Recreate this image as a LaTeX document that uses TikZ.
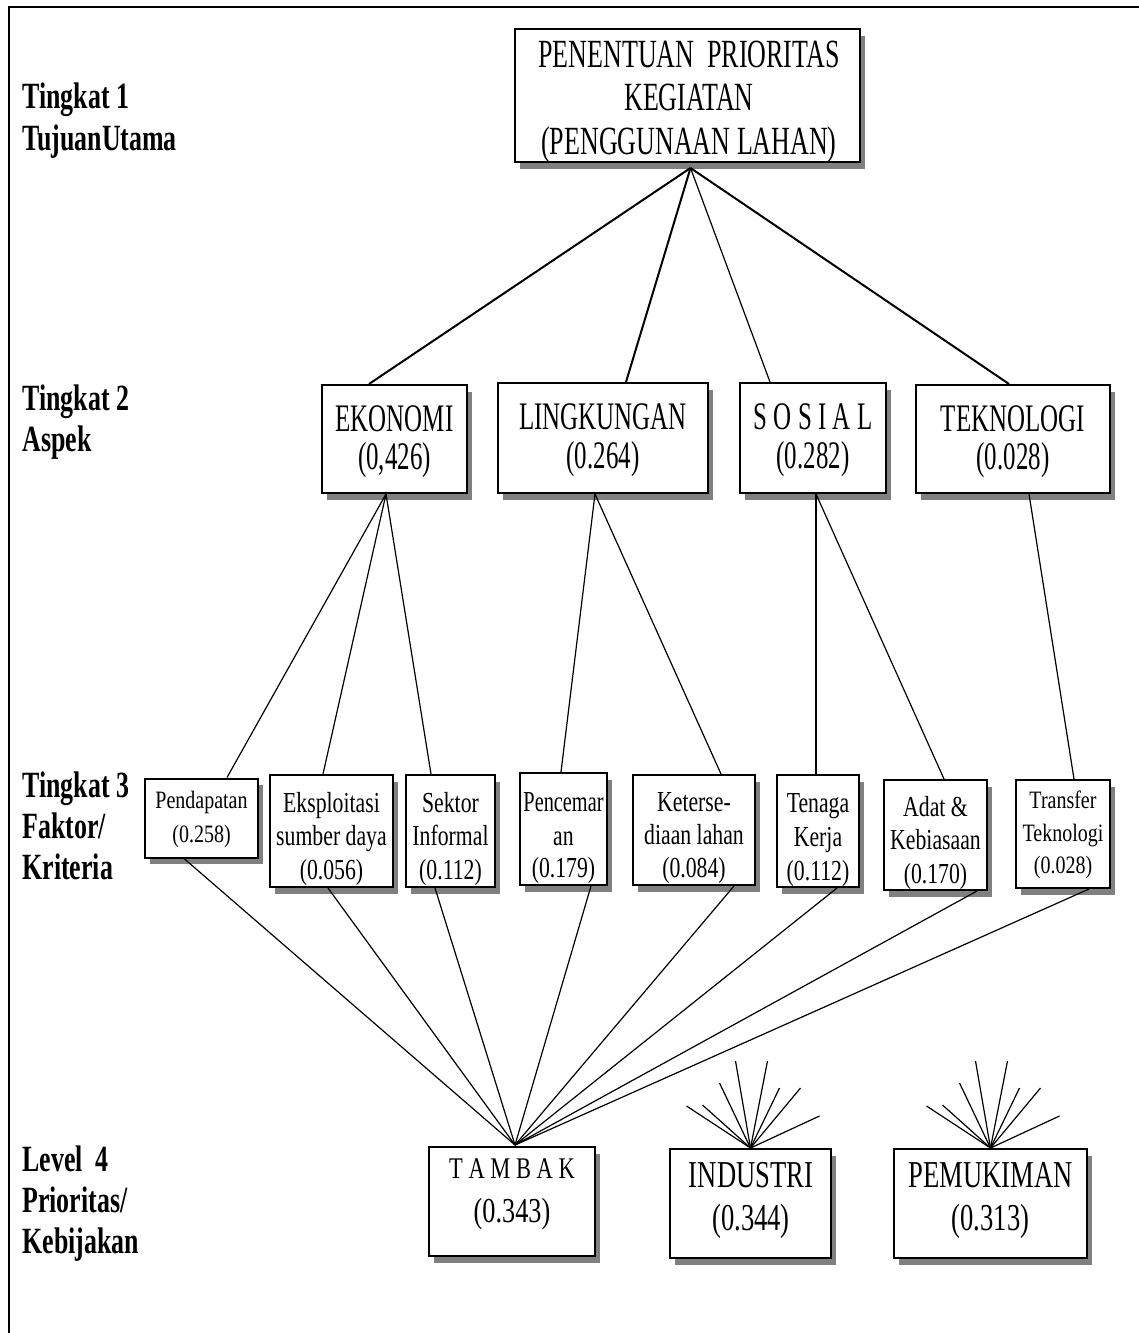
\documentclass[tikz,border=0pt]{standalone}
\usepackage{fontspec}
\setmainfont{Liberation Serif}
\newfontfamily\topfont{Liberation Serif}[FakeStretch=0.65]
\newfontfamily\aspfont{Liberation Serif}[FakeStretch=0.64]
\newfontfamily\levfont{Liberation Serif}[FakeStretch=0.7]
\newfontfamily\midfont{Liberation Serif}[FakeStretch=0.75]
\newfontfamily\penfont{Liberation Serif}[FakeStretch=0.7]
\newfontfamily\smfont{Liberation Serif}[FakeStretch=0.8]
\newfontfamily\labfont{Liberation Serif}[FakeStretch=0.7]
\usetikzlibrary{shadows,calc}
\begin{document}
\begin{tikzpicture}[x=0.5pt,y=-0.5pt,
  box/.style={draw, line width=1pt, fill=white, inner sep=0pt,
     drop shadow={shadow xshift=2.6pt, shadow yshift=-3.3pt, fill=black!50, opacity=1}},
  tl/.style={anchor=base, inner sep=0pt},
  fTop/.style={font=\topfont\fontsize{20}{24}\selectfont},
  fAsp/.style={font=\aspfont\fontsize{19.5}{24}\selectfont},
  fLev/.style={font=\levfont\fontsize{19}{24}\selectfont},
  fTam/.style={font=\midfont\fontsize{15}{18}\selectfont},
  fNum/.style={font=\midfont\fontsize{17.5}{20}\selectfont},
  fMid/.style={font=\midfont\fontsize{14.5}{18}\selectfont},
  fPen/.style={font=\penfont\fontsize{14.5}{18}\selectfont},
  fSm/.style={font=\smfont\fontsize{12.5}{15}\selectfont},
  lab/.style={anchor=base west, inner sep=0pt, font=\labfont\bfseries\fontsize{18.5}{22}\selectfont},
  thickline/.style={line width=1pt},
  thinline/.style={line width=0.6pt},
  frameline/.style={line width=0.75pt}
]
\useasboundingbox (0,0) rectangle (1139,1333);
\draw[frameline] (9,1333) -- (9,7) -- (1139,7);

% left labels
\node[lab] (l1a) at (22,108) {Tingkat 1};
\node[lab] (l1b) at (22,150) {TujuanUtama};
\node[lab] (l2a) at (22,410) {Tingkat 2};
\node[lab] (l2b) at (22,451) {Aspek};
\node[lab] (l3a) at (22,797) {Tingkat 3};
\node[lab] (l3b) at (22,838) {Faktor/};
\node[lab] (l3c) at (22,879) {Kriteria};
\node[lab] (l4a) at (22,1171) {Level~~4};
\node[lab] (l4b) at (22,1212) {Prioritas/};
\node[lab] (l4c) at (22,1253) {Kebijakan};

% level 1
\node[box, minimum width=172.5pt, minimum height=66.5pt] (top) at (687.5,95.5) {};
\node[tl, fTop] (top1) at (689,67) {PENENTUAN~~PRIORITAS};
\node[tl, fTop] (top2) at (689,110.5) {KEGIATAN};
\node[tl, fTop] (top3) at (689,154) {(PENGGUNAAN LAHAN)};

% level 2
\node[box, minimum width=72.5pt, minimum height=54pt] (eko) at (394.5,439) {};
\node[box, minimum width=105pt, minimum height=55pt] (ling) at (603,438) {};
\node[box, minimum width=73pt, minimum height=55pt] (sos) at (813,438) {};
\node[box, minimum width=97pt, minimum height=54pt] (tek) at (1013,439) {};
\node[tl, fAsp] (eko1) at (394.5,431) {EKONOMI};
\node[tl, fAsp] (eko2) at (394.5,469) {(0,426)};
\node[tl, fAsp] (ling1) at (603,429) {LINGKUNGAN};
\node[tl, fAsp] (ling2) at (603,468) {(0.264)};
\node[tl, fAsp] (sos1) at (813,429) {S O S I A L};
\node[tl, fAsp] (sos2) at (813,468) {(0.282)};
\node[tl, fAsp] (tek1) at (1013,431) {TEKNOLOGI};
\node[tl, fAsp] (tek2) at (1013,469) {(0.028)};

% level 3
\node[box, minimum width=56.5pt, minimum height=39.5pt] (pend) at (201.5,818) {};
\node[box, minimum width=61.5pt, minimum height=56pt] (eks) at (331.5,831) {};
\node[box, minimum width=44.5pt, minimum height=56pt] (sek) at (450.5,831) {};
\node[box, minimum width=43.5pt, minimum height=56pt] (pen) at (563.5,829) {};
\node[box, minimum width=61pt, minimum height=55pt] (ket) at (694,830) {};
\node[box, minimum width=41pt, minimum height=56pt] (ten) at (818,831) {};
\node[box, minimum width=51.5pt, minimum height=55pt] (adat) at (935.5,835) {};
\node[box, minimum width=47pt, minimum height=54pt] (tra) at (1063,834) {};

\node[tl, fSm] (pend1) at (201.5,808) {Pendapatan};
\node[tl, fSm] (pend2) at (201.5,842) {(0.258)};
\node[tl, fMid] (eks1) at (331.5,812) {Eksploitasi};
\node[tl, fMid] (eks2) at (331.5,845) {sumber daya};
\node[tl, fMid] (eks3) at (331.5,879) {(0.056)};
\node[tl, fMid] (sek1) at (450.5,812) {Sektor};
\node[tl, fMid] (sek2) at (450.5,845) {Informal};
\node[tl, fMid] (sek3) at (450.5,879) {(0.112)};
\node[tl, fPen] (pen1) at (563.5,811) {Pencemar};
\node[tl, fMid] (pen2) at (563.5,845) {an};
\node[tl, fMid] (pen3) at (563.5,877) {(0.179)};
\node[tl, fMid] (ket1) at (694,811) {Keterse-};
\node[tl, fMid] (ket2) at (694,844) {diaan lahan};
\node[tl, fMid] (ket3) at (694,877) {(0.084)};
\node[tl, fMid] (ten1) at (818,812) {Tenaga};
\node[tl, fMid] (ten2) at (818,846) {Kerja};
\node[tl, fMid] (ten3) at (818,880) {(0.112)};
\node[tl, fMid] (adat1) at (935.5,816) {Adat \&};
\node[tl, fMid] (adat2) at (935.5,849) {Kebiasaan};
\node[tl, fMid] (adat3) at (935.5,883) {(0.170)};
\node[tl, fSm] (tra1) at (1063,808) {Transfer};
\node[tl, fSm] (tra2) at (1063,841) {Teknologi};
\node[tl, fSm] (tra3) at (1063,873) {(0.028)};

% level 4
\node[box, minimum width=83pt, minimum height=54.5pt] (tam) at (512,1201.5) {};
\node[box, minimum width=80.5pt, minimum height=54.5pt] (ind) at (750.5,1203.5) {};
\node[box, minimum width=96.5pt, minimum height=54.5pt] (pem) at (990.5,1203.5) {};
\node[tl, fTam] (tam1) at (512,1178) {T A M B A K};
\node[tl, fNum] (tam2) at (512,1222) {(0.343)};
\node[tl, fLev] (ind1) at (751,1187) {INDUSTRI};
\node[tl, fLev] (ind2) at (751,1230) {(0.344)};
\node[tl, fLev] (pem1) at (990.5,1187) {PEMUKIMAN};
\node[tl, fLev] (pem2) at (990.5,1230) {(0.313)};

% level 1 -> 2
\coordinate (apex) at ($(top.south)+(3,5)$);
\draw[thickline] (apex) -- ($(eko.north west)+(48,0)$);
\draw[thickline] (apex) -- ($(ling.north west)+(129,0)$);
\draw[thinline] (apex) -- ($(sos.north west)+(31,0)$);
\draw[thickline] (apex) -- ($(tek.north west)+(94,0)$);

% level 2 -> 3
\coordinate (ekob) at ($(eko.south west)+(65,0)$);
\draw[thinline] (ekob) -- ($(pend.north west)+(83,0)$);
\draw[thinline] (ekob) -- ($(eks.north west)+(54,0)$);
\draw[thinline] (ekob) -- ($(sek.north west)+(26,0)$);
\coordinate (lingb) at ($(ling.south west)+(98,0)$);
\draw[thinline] (lingb) -- ($(pen.north west)+(42,0)$);
\draw[thinline] (lingb) -- ($(ket.north west)+(89,0)$);
\coordinate (sosb) at ($(sos.south west)+(77,0)$);
\draw[thinline] (sosb) -- ($(ten.north west)+(40,0)$);
\draw[thinline] (sosb) -- ($(adat.north west)+(61,0)$);
\draw[thinline] ($(tek.south west)+(114,0)$) -- ($(tra.north west)+(59,0)$);

% level 3 -> 4
\coordinate (tapex) at ($(tam.north)+(3,-1)$);
\draw[thinline] ($(pend.south west)+(40,0)$) -- (tapex);
\draw[thinline] ($(eks.south west)+(59,0)$) -- (tapex);
\draw[thinline] ($(sek.south west)+(30,0)$) -- (tapex);
\draw[thinline] ($(pen.south west)+(72,0)$) -- (tapex);
\draw[thinline] ($(ket.south west)+(102,0)$) -- (tapex);
\draw[thinline] ($(ten.south west)+(61,0)$) -- (tapex);
\draw[thinline] ($(adat.south west)+(94,0)$) -- (tapex);
\draw[thinline] ($(tra.south west)+(74,0)$) -- (tapex);

% fans above INDUSTRI and PEMUKIMAN
\foreach \dx/\dy in {-64/-42,-48/-43,-31/-65,-15/-87,17/-87,29/-60,50/-60,69/-32}{
  \draw[thinline] (ind.north) -- ++(\dx,\dy);
  \draw[thinline] (pem.north) -- ++(\dx,\dy);
}
\end{tikzpicture}
\end{document}
